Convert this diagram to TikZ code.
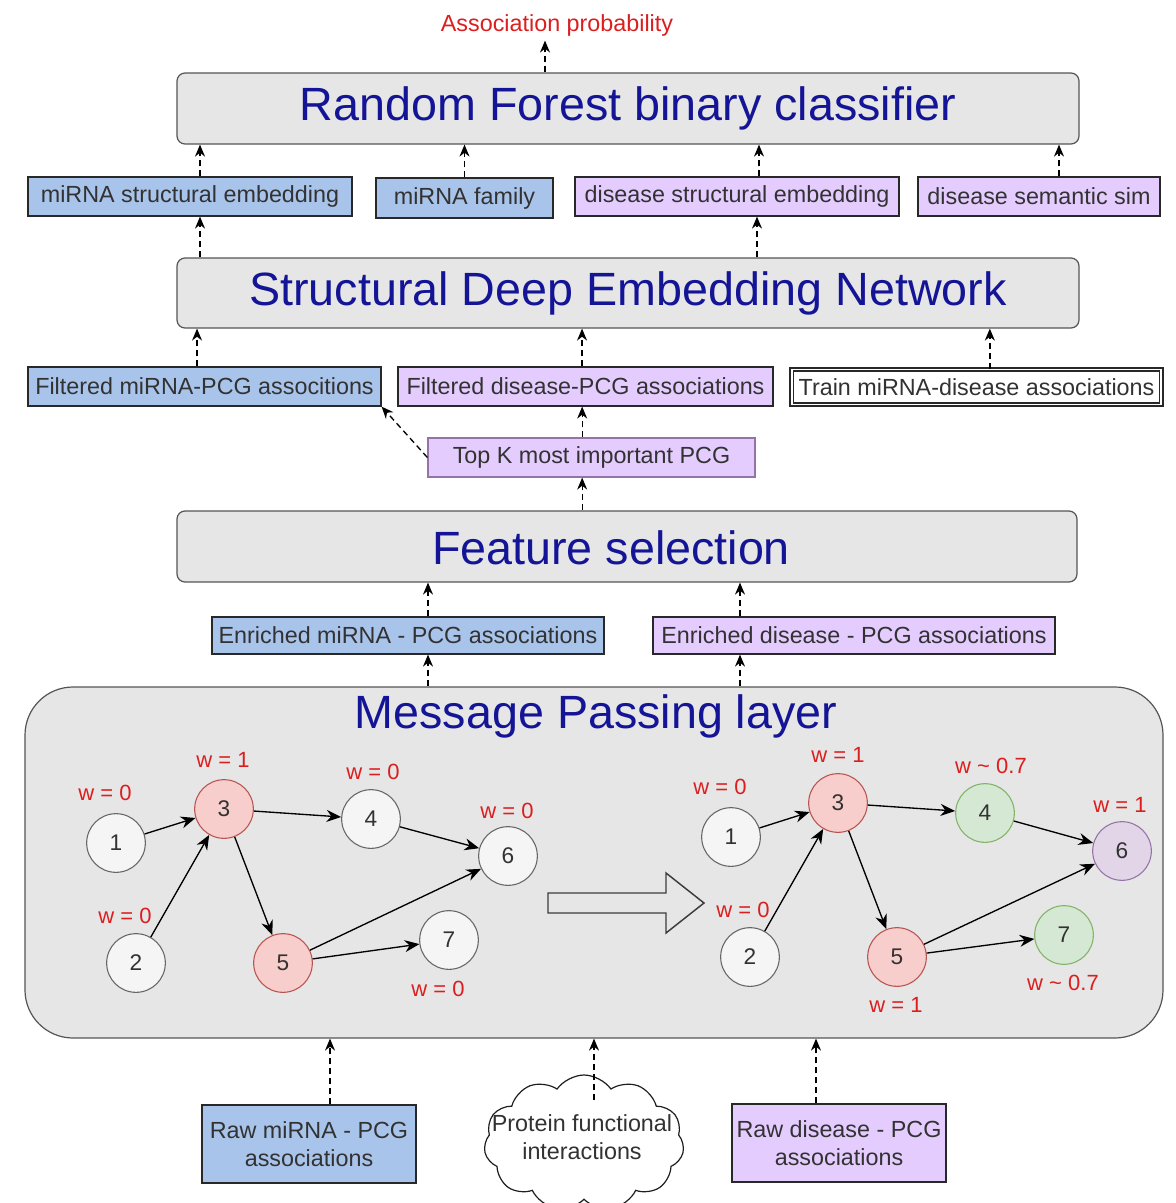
\documentclass[tikz,border=0pt]{standalone}
\usepackage{fontspec}
\setmainfont{Liberation Sans}
\usetikzlibrary{shapes,arrows.meta}

\begin{document}
\begin{tikzpicture}[x=0.75pt,y=0.75pt,yscale=-1,xscale=1,
  big/.style={draw={rgb,255:red,85;green,85;blue,85}, fill={rgb,255:red,230;green,230;blue,230}, line width=0.9pt, rounded corners=6pt, text={rgb,255:red,20;green,20;blue,150}, font=\fontsize{35}{40}\selectfont},
  bigtitle/.style={text={rgb,255:red,20;green,20;blue,150}, font=\fontsize{35}{40}\selectfont},
  mirbox/.style={draw={rgb,255:red,40;green,40;blue,40}, fill={rgb,255:red,169;green,196;blue,235}, line width=0.9pt, text={rgb,255:red,50;green,50;blue,50}, font=\fontsize{17.5}{21.5}\selectfont, align=center},
  disbox/.style={mirbox, fill={rgb,255:red,229;green,204;blue,255}},
  flow/.style={dash pattern=on 4.5pt off 3pt, line width=1pt, -{Stealth[length=9pt,width=7.5pt]}},
  edge/.style={line width=1pt, -{Stealth[length=11pt,width=9pt]}},
  gnode/.style={circle, minimum size=44pt, inner sep=0pt, line width=0.8pt, text={rgb,255:red,50;green,50;blue,50}, font=\fontsize{17}{18}\selectfont},
  whitenode/.style={gnode, draw={rgb,255:red,102;green,102;blue,102}, fill={rgb,255:red,245;green,245;blue,245}},
  rednode/.style={gnode, draw={rgb,255:red,184;green,84;blue,80}, fill={rgb,255:red,248;green,206;blue,204}},
  greennode/.style={gnode, draw={rgb,255:red,130;green,179;blue,102}, fill={rgb,255:red,213;green,232;blue,212}},
  purplenode/.style={gnode, draw={rgb,255:red,150;green,115;blue,166}, fill={rgb,255:red,225;green,213;blue,231}},
  wlab/.style={text={rgb,255:red,220;green,30;blue,30}, font=\fontsize{16.5}{18}\selectfont}
]
\useasboundingbox (0,0) rectangle (1176,1203);

% top: classifier and its inputs
\node[text={rgb,255:red,220;green,30;blue,30}, font=\fontsize{17.5}{21}\selectfont] (assoc) at (557,25) {Association probability};
\node[big, minimum width=676.5pt, minimum height=53.25pt] (rf) at (628,108.5) {Random Forest binary classifier};
\node[mirbox, minimum width=243pt, minimum height=29.25pt] (mse) at (190,196.5) {miRNA structural embedding};
\node[mirbox, minimum width=132.75pt, minimum height=30pt] (fam) at (464.5,198) {miRNA family};
\node[disbox, minimum width=243pt, minimum height=29.25pt] (dse) at (737,196.5) {disease structural embedding};
\node[disbox, minimum width=181.5pt, minimum height=29.25pt] (dss) at (1039,196.5) {disease semantic sim};

\draw[flow] ([xshift=-9pt]assoc.south |- rf.north) -- ([xshift=-9pt]assoc.south);
\draw[flow] ([xshift=7.5pt]mse.north) -- ([xshift=7.5pt]mse.north |- rf.south);
\draw[flow] (fam.north) -- (fam.north |- rf.south);
\draw[flow] ([xshift=16.5pt]dse.north) -- ([xshift=16.5pt]dse.north |- rf.south);
\draw[flow] ([xshift=15pt]dss.north) -- ([xshift=15pt]dss.north |- rf.south);

% embedding network
\node[big, minimum width=676.5pt, minimum height=52.5pt] (sdne) at (628,293) {Structural Deep Embedding Network};
\draw[flow] ([xshift=7.5pt]mse.south |- sdne.north) -- ([xshift=7.5pt]mse.south);
\draw[flow] ([xshift=15pt]dse.south |- sdne.north) -- ([xshift=15pt]dse.south);

\node[mirbox, minimum width=264.75pt, minimum height=29.25pt] (fmp) at (204.5,386.5) {Filtered miRNA-PCG associtions};
\node[disbox, minimum width=281.25pt, minimum height=29.25pt] (fdp) at (585.5,386.5) {Filtered disease-PCG associations};
\node[mirbox, fill=white, draw={rgb,255:red,40;green,40;blue,40}, double=white, double distance=1.2pt, line width=1.2pt, minimum width=277pt, minimum height=26pt] (train) at (976.5,387) {Train miRNA-disease associations};
\node[disbox, draw={rgb,255:red,150;green,115;blue,166}, minimum width=245.25pt, minimum height=29.25pt] (topk) at (591.5,457.5) {Top K most important PCG};

\draw[flow] ([xshift=-5.6pt]fmp.north) -- ([xshift=-5.6pt]fmp.north |- sdne.south);
\draw[flow] ([xshift=-2.6pt]fdp.north) -- ([xshift=-2.6pt]fdp.north |- sdne.south);
\draw[flow] ([xshift=10pt]train.north) -- ([xshift=10pt]train.north |- sdne.south);
\draw[flow] ([xshift=-7pt]topk.north) -- ([xshift=-7pt]topk.north |- fdp.south);
\draw[flow] (topk.west) -- (fmp.south east);

% feature selection
\node[big, minimum width=675pt, minimum height=53.25pt] (fs) at (627,546.5) {};
\node[bigtitle] (fstitle) at (611,548) {Feature selection};
\draw[flow] ([xshift=-7pt]topk.south |- fs.north) -- ([xshift=-7pt]topk.south);

\node[mirbox, minimum width=294pt, minimum height=27.75pt] (emp) at (408,635.5) {Enriched miRNA - PCG associations};
\node[disbox, minimum width=301.5pt, minimum height=27.75pt] (edp) at (854,635.5) {Enriched disease - PCG associations};
\draw[flow] ([xshift=15pt]emp.north) -- ([xshift=15pt]emp.north |- fs.south);
\draw[flow] ([xshift=-85.5pt]edp.north) -- ([xshift=-85.5pt]edp.north |- fs.south);

% message passing layer
\node[big, rounded corners=36pt, minimum width=853.5pt, minimum height=263.25pt] (mp) at (594,862.5) {};
\node[bigtitle] (mptitle) at (596,716) {Message Passing layer};
\draw[flow] ([xshift=15pt]emp.south |- mp.north) -- ([xshift=15pt]emp.south);
\draw[flow] ([xshift=-85.5pt]edp.south |- mp.north) -- ([xshift=-85.5pt]edp.south);

% graph before
\node[whitenode] (l1) at (116,843) {1};
\node[whitenode] (l2) at (136,963) {2};
\node[rednode] (l3) at (224,809) {3};
\node[whitenode] (l4) at (371,819) {4};
\node[rednode] (l5) at (283,963) {5};
\node[whitenode] (l6) at (508,856) {6};
\node[whitenode] (l7) at (449,940) {7};
\draw[edge] (l1) -- (l3);
\draw[edge] (l2) -- (l3);
\draw[edge] (l3) -- (l4);
\draw[edge] (l3) -- (l5);
\draw[edge] (l4) -- (l6);
\draw[edge] (l5) -- (l6);
\draw[edge] (l5) -- (l7);
\node[wlab] (lw1) at (105,793) {w = 0};
\node[wlab] (lw2) at (125,916) {w = 0};
\node[wlab] (lw3) at (223,760) {w = 1};
\node[wlab] (lw4) at (373,772) {w = 0};
\node[wlab] (lw6) at (507,811) {w = 0};
\node[wlab] (lw7) at (438,989) {w = 0};

% hollow arrow
\draw[line width=1.1pt, draw={rgb,255:red,60;green,60;blue,60}] (548,893) -- (666,893) -- (666,873) -- (704,903) -- (666,933) -- (666,913) -- (548,913) -- cycle;

% graph after
\node[whitenode] (r1) at (731,837) {1};
\node[whitenode] (r2) at (750,957) {2};
\node[rednode] (r3) at (838,803) {3};
\node[greennode] (r4) at (985,813) {4};
\node[rednode] (r5) at (897,957) {5};
\node[purplenode] (r6) at (1122,851) {6};
\node[greennode] (r7) at (1064,935) {7};
\draw[edge] (r1) -- (r3);
\draw[edge] (r2) -- (r3);
\draw[edge] (r3) -- (r4);
\draw[edge] (r3) -- (r5);
\draw[edge] (r4) -- (r6);
\draw[edge] (r5) -- (r6);
\draw[edge] (r5) -- (r7);
\node[wlab] (rw1) at (720,787) {w = 0};
\node[wlab] (rw2) at (743,910) {w = 0};
\node[wlab] (rw3) at (838,755) {w = 1};
\node[wlab] (rw4) at (991,766) {w \textasciitilde{} 0.7};
\node[wlab] (rw6) at (1120,805) {w = 1};
\node[wlab] (rw5) at (896,1005) {w = 1};
\node[wlab] (rw7) at (1063,983) {w \textasciitilde{} 0.7};

% raw inputs
\node[mirbox, minimum width=160.5pt, minimum height=58.5pt] (rawm) at (309,1144) {Raw miRNA - PCG\\associations};
\node[disbox, minimum width=160.5pt, minimum height=58.5pt] (rawd) at (839,1143) {Raw disease - PCG\\associations};
\node[cloud, cloud puffs=11, cloud puff arc=110, aspect=1.5, draw={rgb,255:red,30;green,30;blue,30}, fill=white, line width=0.9pt, minimum width=150pt, minimum height=102pt, inner sep=0pt] (ppi) at (584,1143) {};
\node[align=center, text={rgb,255:red,50;green,50;blue,50}, font=\fontsize{17.5}{21.5}\selectfont] (ppitext) at (582,1137) {Protein functional\\interactions};
\coordinate (ppistart) at (594,1100);

\draw[flow] ([xshift=15.75pt]rawm.north) -- ([xshift=15.75pt]rawm.north |- mp.south);
\draw[flow] (ppistart) -- (ppistart |- mp.south);
\draw[flow] ([xshift=-17.25pt]rawd.north) -- ([xshift=-17.25pt]rawd.north |- mp.south);
\end{tikzpicture}
\end{document}
